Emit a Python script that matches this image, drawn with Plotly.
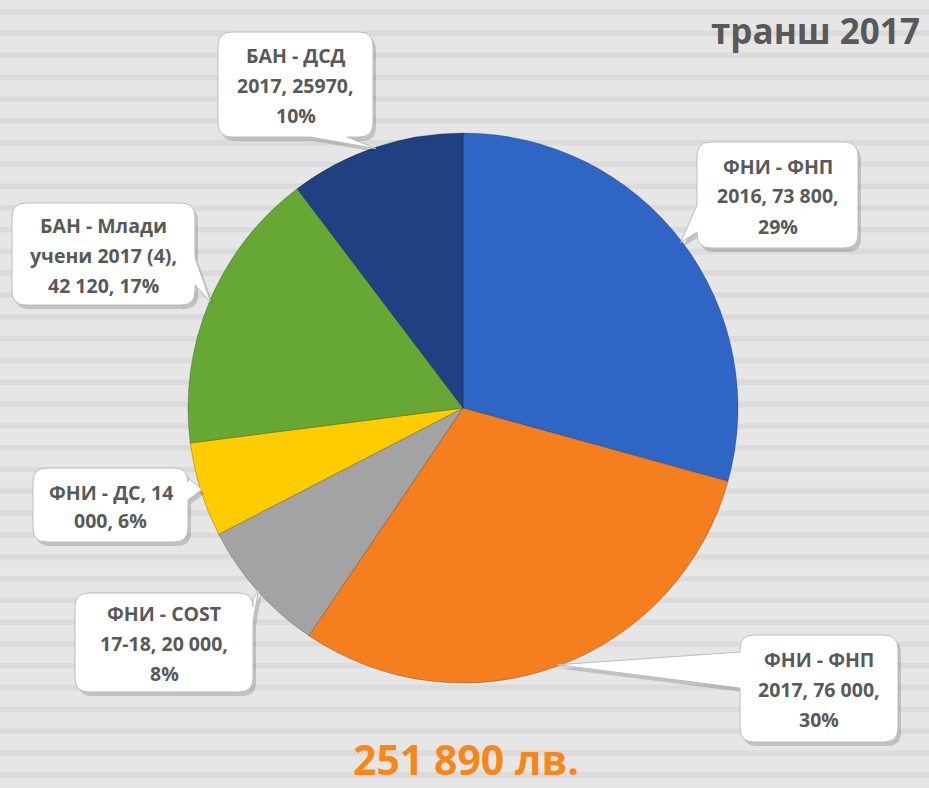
import math
import plotly.graph_objects as go

# ---------------- data ----------------
categories = ["ФНИ - ФНП 2016", "ФНИ - ФНП 2017", "ФНИ - COST 17-18", "ФНИ - ДС",
              "БАН - Млади учени 2017 (4)", "БАН - ДСД 2017"]
values = [73800, 76000, 20000, 14000, 42120, 25970]
label_lines = [
    ["ФНИ - ФНП", "2016, 73 800,", "29%"],
    ["ФНИ - ФНП", "2017, 76 000,", "30%"],
    ["ФНИ - COST", "17-18, 20 000,", "8%"],
    ["ФНИ - ДС, 14", "000, 6%"],
    ["БАН - Млади", "учени 2017 (4),", "42 120, 17%"],
    ["БАН - ДСД", "2017, 25970,", "10%"],
]
title_text = "транш 2017"
total_text = "251 890 лв."

# ---------------- styling / layout ----------------
W, H = 929, 788
colors = ["#2f66c6", "#f57f1f", "#a3a3a3", "#ffcc00", "#66a833", "#1f4181"]
TEXT = "#595959"

# pie geometry in pixels
CX, CY, R = 463, 408, 275

# callout boxes (x0, y0, x1, y1), tail edge, tail base span along that edge
boxes = [
    ((697, 142, 858, 248), "left", (205, 232)),
    ((740, 635, 898, 742), "left", (652, 688)),
    ((75, 593, 253, 692), "right", (600, 622)),
    ((33, 468, 188, 542), "right", (478, 500)),
    ((12, 203, 195, 305), "right", (258, 285)),
    ((218, 32, 373, 137), "bottom", (310, 347)),
]


def px(x):
    return x / W


def py(y):
    return 1 - y / H


def callout_path(box, edge, span, tip, dx=0, dy=0, r=14):
    x0, y0, x1, y1 = box
    x0 += dx; x1 += dx; y0 += dy; y1 += dy
    a, b = span
    tx, ty = tip[0] + dx, tip[1] + dy
    if edge in ("left", "right"):
        a += dy; b += dy
    else:
        a += dx; b += dx
    pts = []

    def P(cmd, *xy):
        s = cmd
        for i in range(0, len(xy), 2):
            s += f" {px(xy[i]):.5f},{py(xy[i+1]):.5f}"
        pts.append(s)

    P("M", x0 + r, y0)
    if edge == "top":
        P("L", a, y0); P("L", tx, ty); P("L", b, y0)
    P("L", x1 - r, y0)
    P("Q", x1, y0, x1, y0 + r)
    if edge == "right":
        P("L", x1, a); P("L", tx, ty); P("L", x1, b)
    P("L", x1, y1 - r)
    P("Q", x1, y1, x1 - r, y1)
    if edge == "bottom":
        P("L", b, y1); P("L", tx, ty); P("L", a, y1)
    P("L", x0 + r, y1)
    P("Q", x0, y1, x0, y1 - r)
    if edge == "left":
        P("L", x0, b); P("L", tx, ty); P("L", x0, a)
    P("L", x0, y0 + r)
    P("Q", x0, y0, x0 + r, y0)
    return " ".join(pts) + " Z"


# ---------------- figure ----------------
fig = go.Figure()
fig.add_trace(go.Pie(
    labels=categories,
    values=values,
    sort=False,
    direction="clockwise",
    rotation=0,
    textinfo="none",
    marker=dict(colors=colors, line=dict(color="rgba(0,0,0,0.22)", width=1)),
    domain=dict(x=[(CX - R) / W, (CX + R) / W], y=[py(CY + R), py(CY - R)]),
    showlegend=False,
))

shapes = []
# striped background
y = 9.0
while y < H:
    shapes.append(dict(type="rect", xref="paper", yref="paper", layer="below",
                       x0=0, x1=1, y0=py(y + 5.5), y1=py(y),
                       fillcolor="#dcdada", line=dict(width=0)))
    y += 21.8

annotations = []
total = sum(values)
cum = 0
for i, v in enumerate(values):
    mid = (cum + v / 2) / total * 2 * math.pi
    cum += v
    tip = (CX + 0.995 * R * math.sin(mid), CY - 0.995 * R * math.cos(mid))
    box, edge, span = boxes[i]
    shapes.append(dict(type="path", xref="paper", yref="paper", layer="above",
                       path=callout_path(box, edge, span, tip, dx=3, dy=4),
                       fillcolor="rgba(0,0,0,0.16)", line=dict(width=0)))
    shapes.append(dict(type="path", xref="paper", yref="paper", layer="above",
                       path=callout_path(box, edge, span, tip),
                       fillcolor="white", line=dict(color="#bdbdbd", width=1)))
    lines = label_lines[i]
    bcx = (box[0] + box[2]) / 2
    bcy = (box[1] + box[3]) / 2
    n = len(lines)
    spacing = 30 if n == 3 else 28
    for j, t in enumerate(lines):
        ly = bcy + (j - (n - 1) / 2) * spacing + 1
        annotations.append(dict(
            x=px(bcx), y=py(ly), xref="paper", yref="paper",
            text=t, showarrow=False, xanchor="center", yanchor="middle",
            font=dict(family="Open Sans", size=19.5, color=TEXT, weight=700),
        ))

annotations.append(dict(
    x=px(922), y=py(31), xref="paper", yref="paper", text=title_text,
    showarrow=False, xanchor="right", yanchor="middle",
    font=dict(family="Open Sans", size=35, color=TEXT, weight=700)))
annotations.append(dict(
    x=px(466), y=py(759), xref="paper", yref="paper", text=total_text,
    showarrow=False, xanchor="center", yanchor="middle",
    font=dict(family="Open Sans", size=41, color="#f7861b", weight=700)))

fig.update_layout(
    width=W, height=H,
    margin=dict(l=0, r=0, t=0, b=0),
    paper_bgcolor="#e6e6e6",
    plot_bgcolor="#e6e6e6",
    shapes=shapes,
    annotations=annotations,
)

fig.write_html(
    "out.html",
    config={"displayModeBar": False},
    post_script="document.body.style.margin='0';document.body.style.padding='0';"
                "document.body.style.overflow='hidden';",
)
